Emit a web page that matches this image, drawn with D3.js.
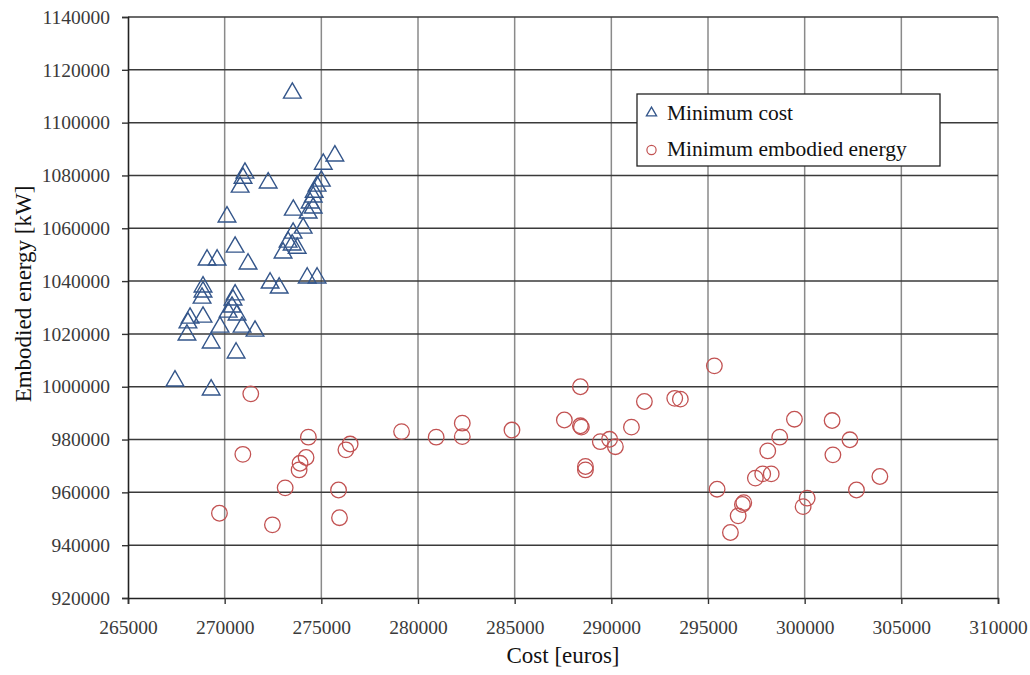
<!DOCTYPE html>
<html>
<head>
<meta charset="utf-8">
<script src="https://cdn.jsdelivr.net/npm/d3@7"></script>
<style>
  body { margin: 0; background: #fff; }
  text { font-family: "Liberation Serif", "Times New Roman", serif; }
</style>
</head>
<body>
<svg id="chart" width="1030" height="675"></svg>
<script>
// minimum cost solutions [cost, embodied energy]
var minCostX = [273500, 275700, 275100, 271050, 270950, 270800, 272250, 275000, 274780, 274630,
  274580, 274420, 274580, 274320, 273550, 270120, 274060, 273540, 273280, 273490,
  273750, 273020, 270540, 269090, 269610, 271210, 272350, 272820, 274270, 274780,
  268880, 268880, 268830, 270540, 270430, 270380, 270180, 270640, 268210, 268100,
  268880, 269760, 270900, 271570, 268050, 269300, 270590, 267430, 269300];
var minCostY = [1111200, 1087400, 1084300, 1080900, 1079000, 1075600, 1077200, 1077900, 1076000, 1073700,
  1071900, 1069600, 1067700, 1065800, 1066900, 1064300, 1060100, 1058200, 1054800, 1053700,
  1052500, 1050700, 1052900, 1048000, 1048000, 1046500, 1039300, 1037400, 1041200, 1041200,
  1037800, 1035900, 1033600, 1034800, 1032900, 1030200, 1028300, 1027200, 1026000, 1024200,
  1026400, 1022600, 1022600, 1021100, 1019600, 1016600, 1012800, 1002200, 998800];

// minimum embodied energy solutions
var minEnergyX = [271350, 270940, 274330, 274210, 273900, 273850, 273130, 269730, 272470, 276490,
  276270, 275890, 275940, 279150, 280940, 282290, 282290, 284860, 295330, 288400,
  291710, 293280, 293570, 287570, 288400, 288450, 291040, 289430, 289910, 290210,
  288660, 288660, 295470, 296850, 296780, 296560, 296160, 297450, 297830, 298270,
  298090, 298710, 299470, 300130, 299920, 301420, 302340, 301460, 302680, 303890];
var minEnergyY = [997300, 974400, 980900, 973200, 971000, 968500, 961700, 952100, 947700, 978300,
  976100, 960900, 950400, 983000, 980900, 986200, 981100, 983600, 1007900, 1000000,
  994400, 995600, 995300, 987400, 985200, 984700, 984700, 979200, 980100, 977300,
  969800, 968500, 961200, 956100, 955400, 951100, 944800, 965400, 967000, 967000,
  975700, 980900, 987700, 957800, 954600, 987200, 979900, 974200, 960900, 966000];

var xTicks = [265000, 270000, 275000, 280000, 285000, 290000, 295000, 300000, 305000, 310000];
var yTicks = [920000, 940000, 960000, 980000, 1000000, 1020000, 1040000, 1060000, 1080000, 1100000, 1120000, 1140000];
var seriesNames = ["Minimum cost", "Minimum embodied energy"];

var blue = "#33558a", red = "#c25252";
var plotLeft = 128, plotRight = 998, plotTop = 17, plotBottom = 598;

var svg = d3.select("#chart");
var x = d3.scaleLinear().domain([265000, 310000]).range([plotLeft, plotRight]);
var y = d3.scaleLinear().domain([920000, 1140000]).range([plotBottom, plotTop]);

// vertical gridlines (grey)
svg.append("g").selectAll("line").data(xTicks.slice(1)).join("line")
   .attr("x1", function(d) { return x(d); }).attr("x2", function(d) { return x(d); })
   .attr("y1", plotTop).attr("y2", plotBottom)
   .attr("stroke", "#8a8a8a").attr("stroke-width", 1.5);

// horizontal gridlines (dark)
svg.append("g").selectAll("line").data(yTicks.slice(1)).join("line")
   .attr("x1", plotLeft).attr("x2", plotRight)
   .attr("y1", function(d) { return y(d); }).attr("y2", function(d) { return y(d); })
   .attr("stroke", "#3a3a3a").attr("stroke-width", 1.5);

var xAxis = svg.append("g").attr("transform", "translate(0," + plotBottom + ")")
   .call(d3.axisBottom(x).tickValues(xTicks).tickSize(6).tickPadding(16).tickFormat(d3.format("d")));
var yAxis = svg.append("g").attr("transform", "translate(" + plotLeft + ",0)")
   .call(d3.axisLeft(y).tickValues(yTicks).tickSize(6).tickPadding(12).tickFormat(d3.format("d")));

[xAxis, yAxis].forEach(function(a) {
  a.select(".domain").attr("stroke", "#222").attr("stroke-width", 1.6);
  a.selectAll(".tick line").attr("stroke", "#333").attr("stroke-width", 1.4);
  a.selectAll("text").attr("font-family", "Liberation Serif, serif")
   .attr("font-size", 19.5).attr("fill", "#3a3a3a");
});

// axis titles
svg.append("text").attr("x", (plotLeft + plotRight) / 2).attr("y", 663)
   .attr("text-anchor", "middle").attr("font-size", 23).attr("fill", "#111")
   .text("Cost [euros]");
svg.append("text")
   .attr("transform", "translate(31,294) rotate(-90)")
   .attr("text-anchor", "middle").attr("font-size", 23).attr("fill", "#111")
   .text("Embodied energy [kW]");

// points
var tri = d3.symbol().type(d3.symbolTriangle).size(135);
svg.append("g").selectAll("path").data(d3.range(minCostX.length)).join("path")
   .attr("d", tri)
   .attr("transform", function(i) { return "translate(" + x(minCostX[i]) + "," + y(minCostY[i]) + ")"; })
   .attr("fill", "none").attr("stroke", blue).attr("stroke-width", 1.4);

svg.append("g").selectAll("circle").data(d3.range(minEnergyX.length)).join("circle")
   .attr("cx", function(i) { return x(minEnergyX[i]); })
   .attr("cy", function(i) { return y(minEnergyY[i]); })
   .attr("r", 7.8)
   .attr("fill", "none").attr("stroke", red).attr("stroke-width", 1.3);

// legend
var legend = svg.append("g").attr("transform", "translate(637,94)");
legend.append("rect").attr("width", 303).attr("height", 72)
   .attr("fill", "#fff").attr("stroke", "#222").attr("stroke-width", 1.3);
legend.append("path").attr("d", d3.symbol().type(d3.symbolTriangle).size(45))
   .attr("transform", "translate(14.5,19)")
   .attr("fill", "none").attr("stroke", blue).attr("stroke-width", 1.3);
legend.append("circle").attr("cx", 14.5).attr("cy", 56).attr("r", 4.6)
   .attr("fill", "none").attr("stroke", red).attr("stroke-width", 1.2);
legend.selectAll("text.lab").data(seriesNames).join("text")
   .attr("class", "lab")
   .attr("x", 30).attr("y", function(d, i) { return 26 + i * 36; })
   .attr("font-size", 21.5).attr("fill", "#111")
   .text(function(d) { return d; });
</script>
</body>
</html>
